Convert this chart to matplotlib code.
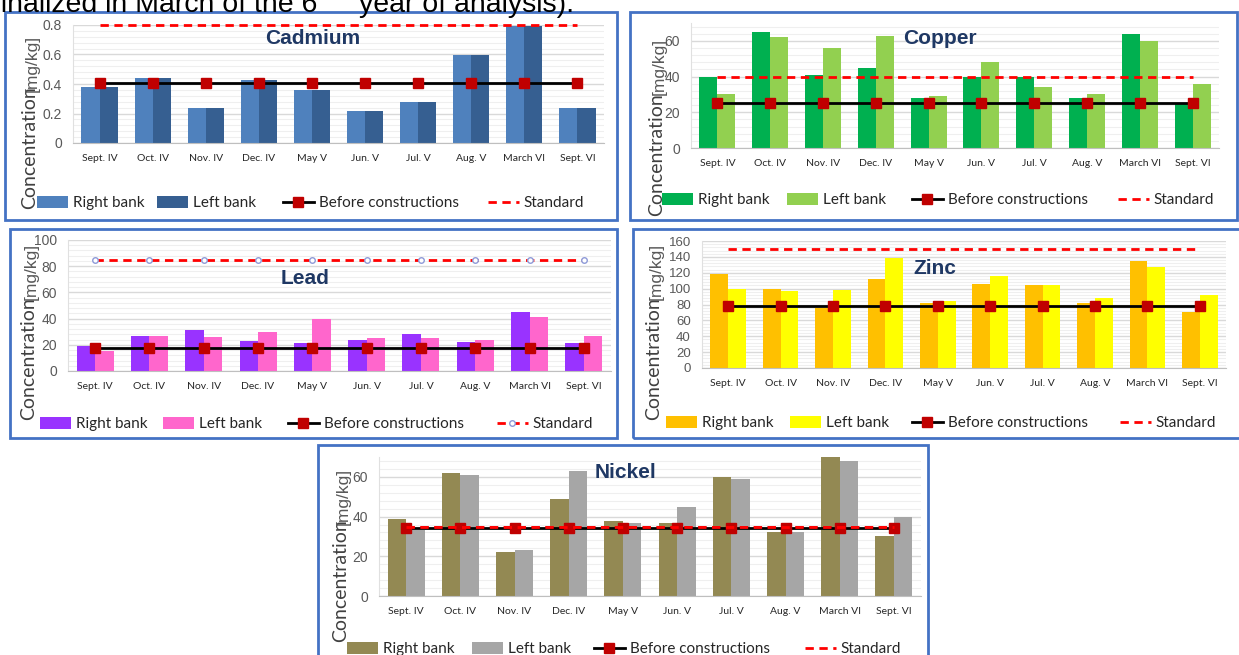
import matplotlib.pyplot as plt
from matplotlib.patches import Rectangle, Patch
from matplotlib.lines import Line2D
from matplotlib.ticker import AutoMinorLocator, MultipleLocator, FuncFormatter

W, H = 1239, 655

# Data.
months = ['Sept. IV', 'Oct. IV', 'Nov. IV', 'Dec. IV', 'May V',
          'Jun. V', 'Jul. V', 'Aug. V', 'March VI', 'Sept. VI']

cd_right = [0.38, 0.44, 0.24, 0.43, 0.36, 0.22, 0.28, 0.60, 0.79, 0.24]
cd_left = [0.38, 0.44, 0.24, 0.43, 0.36, 0.22, 0.28, 0.60, 0.79, 0.24]
cd_before = 0.41
cd_standard = 0.8

cu_right = [40, 65, 41, 45, 28, 40, 40, 28, 64, 25]
cu_left = [30, 62, 56, 63, 29, 48, 34, 30, 60, 36]
cu_before = 25
cu_standard = 40

pb_right = [19, 27, 31, 23, 21, 24, 28, 22, 45, 21]
pb_left = [15, 27, 26, 30, 40, 25, 25, 24, 41, 27]
pb_before = 17.5
pb_standard = 85

zn_right = [118, 99, 76, 112, 82, 106, 105, 82, 135, 71]
zn_left = [100, 97, 98, 138, 84, 116, 104, 88, 127, 92]
zn_before = 78
zn_standard = 150

ni_right = [39, 62, 22, 49, 38, 37, 60, 32, 70, 30]
ni_left = [33, 61, 23, 63, 37, 45, 59, 32, 68, 40]
ni_before = 34
ni_standard = 35

legend_labels = ['Right bank', 'Left bank', 'Before constructions', 'Standard']

fig = plt.figure(figsize=(W / 100, H / 100), dpi=100)


def fx(x):
    return x / W


def fy(y):
    return 1 - y / H


def panel(box, axbox, name, title_xy, right, left, before, standard,
          colors, ylim, ystep, label_pos, legend_y, legend_xs,
          std_marker=False, ytick_size=10):
    # border of the panel
    x0, y0, x1, y1 = box
    fig.patches.append(Rectangle((fx(x0), fy(y1)), fx(x1 - x0), (y1 - y0) / H,
                                 transform=fig.transFigure, fill=False,
                                 edgecolor='#4472C4', linewidth=2))
    l, t, r, b = axbox
    ax = fig.add_axes([fx(l), fy(b), fx(r - l), (b - t) / H])
    n = len(right)
    xs = list(range(n))
    w = 0.34
    ax.bar([i - w / 2 for i in xs], right, width=w, color=colors[0], zorder=2)
    ax.bar([i + w / 2 for i in xs], left, width=w, color=colors[1], zorder=2)
    ax.plot(xs, [standard] * n, color='#FF0000', linestyle=(0, (3, 2)),
            linewidth=2, zorder=3, clip_on=False,
            marker='o' if std_marker else None, markersize=4,
            markerfacecolor='white', markeredgecolor='#8E9AD8')
    ax.plot(xs, [before] * n, color='black', linewidth=2, zorder=4,
            marker='s', markersize=7, markerfacecolor='#C00000',
            markeredgecolor='#C00000', clip_on=False)
    if name == 'Nickel':
        ax.plot(xs, [standard] * n, color='#FF0000', linestyle=(0, (3, 2)),
                linewidth=2, zorder=5)
    ax.set_xlim(-0.5, n - 0.5)
    ax.set_ylim(*ylim)
    ax.yaxis.set_major_locator(MultipleLocator(ystep))
    ax.yaxis.set_major_formatter(FuncFormatter(lambda v, p: f'{v:g}'))
    ax.yaxis.set_minor_locator(AutoMinorLocator(5))
    ax.grid(axis='y', which='major', color='#D9D9D9', linewidth=1, zorder=0)
    ax.grid(axis='y', which='minor', color='#EFEFEF', linewidth=0.8, zorder=0)
    ax.set_axisbelow(True)
    for s in ['top', 'right']:
        ax.spines[s].set_visible(False)
    ax.spines['left'].set_color('#E0E0E0')
    ax.spines['bottom'].set_color('#BFBFBF')
    ax.set_xticks(xs)
    ax.set_xticklabels(months, fontsize=7.5, family='Lato', color='#262626')
    ax.tick_params(axis='x', length=0, pad=8)
    ax.tick_params(axis='y', length=0, pad=8, labelsize=ytick_size,
                   labelcolor='#595959')
    ax.tick_params(axis='y', which='minor', length=0)
    for lab in ax.get_yticklabels():
        lab.set_family('Liberation Sans')
    fig.text(fx(title_xy[0]), fy(title_xy[1]), name, ha='center', va='center',
             fontsize=15, fontweight='bold', color='#1F3864',
             family='Liberation Sans')
    # y label: big "Concentration" plus smaller "[mg/kg]"
    lx, conc_bottom, unit_bottom = label_pos
    fig.text(fx(lx), fy(conc_bottom), 'Concentration', rotation=90,
             rotation_mode='anchor', ha='left', va='center', fontsize=14,
             family='Lato', color='#404040')
    fig.text(fx(lx + 2), fy(unit_bottom), '[mg/kg]', rotation=90,
             rotation_mode='anchor', ha='left', va='center', fontsize=12.5,
             family='Liberation Sans', color='#595959')
    # legend entries placed one by one
    handles = [Patch(facecolor=colors[0]), Patch(facecolor=colors[1]),
               Line2D([], [], color='black', linewidth=2, marker='s',
                      markersize=7, markerfacecolor='#C00000',
                      markeredgecolor='#C00000'),
               Line2D([], [], color='#FF0000', linestyle=(0, (3, 2)),
                      linewidth=2,
                      marker='o' if std_marker else None, markersize=4,
                      markerfacecolor='white', markeredgecolor='#8E9AD8')]
    for h, lab, lxp in zip(handles, legend_labels, legend_xs):
        leg = fig.legend([h], [lab], loc='center left',
                         bbox_to_anchor=(fx(lxp), fy(legend_y)),
                         frameon=False, borderpad=0, borderaxespad=0,
                         handlelength=2.0, handleheight=0.9,
                         handletextpad=0.35,
                         prop={'family': 'Lato', 'size': 11})
        for t in leg.get_texts():
            t.set_color('#262626')
    return ax


panel((5, 12, 617, 220), (73, 25, 604, 143), 'Cadmium', (313, 38),
      cd_right, cd_left, cd_before, cd_standard, ('#4F81BD', '#365F91'),
      (0, 0.8), 0.2, (30, 209, 92), 203, [37, 157, 283, 488])

panel((630, 12, 1237, 220), (691, 23, 1219, 148), 'Copper', (940, 38),
      cu_right, cu_left, cu_before, cu_standard, ('#00B050', '#92D050'),
      (0, 70), 20, (657, 216, 95), 200, [662, 787, 912, 1118])

panel((10, 229, 617, 438), (68, 240, 611, 371), 'Lead', (305, 279),
      pb_right, pb_left, pb_before, pb_standard, ('#9933FF', '#FF66CC'),
      (0, 100), 20, (29, 420, 300), 424, [40, 163, 288, 497],
      std_marker=True)

panel((633, 229, 1245, 438), (702, 241, 1226, 368), 'Zinc', (935, 268),
      zn_right, zn_left, zn_before, zn_standard, ('#FFC000', '#FFFF00'),
      (0, 160), 20, (654, 420, 300), 423, [666, 790, 912, 1120],
      ytick_size=9.5)

panel((318, 445, 928, 665), (379, 457, 921, 596), 'Nickel', (625, 473),
      ni_right, ni_left, ni_before, ni_standard, ('#938953', '#A6A6A6'),
      (0, 70), 20, (341, 642, 525), 649, [347, 472, 594, 805])

# clipped line of the surrounding page text
fig.text(fx(317), fy(12), 'finalized in March of the 6',
         fontsize=20.5, family='Liberation Sans', color='black',
         ha='right', va='baseline')
fig.text(fx(320), fy(-2), 'th', fontsize=12, family='Liberation Sans',
         color='black', ha='left', va='baseline')
fig.text(fx(359), fy(12), 'year of analysis).',
         fontsize=20.5, family='Liberation Sans', color='black',
         ha='left', va='baseline')

fig.savefig('out.png', dpi=100)
